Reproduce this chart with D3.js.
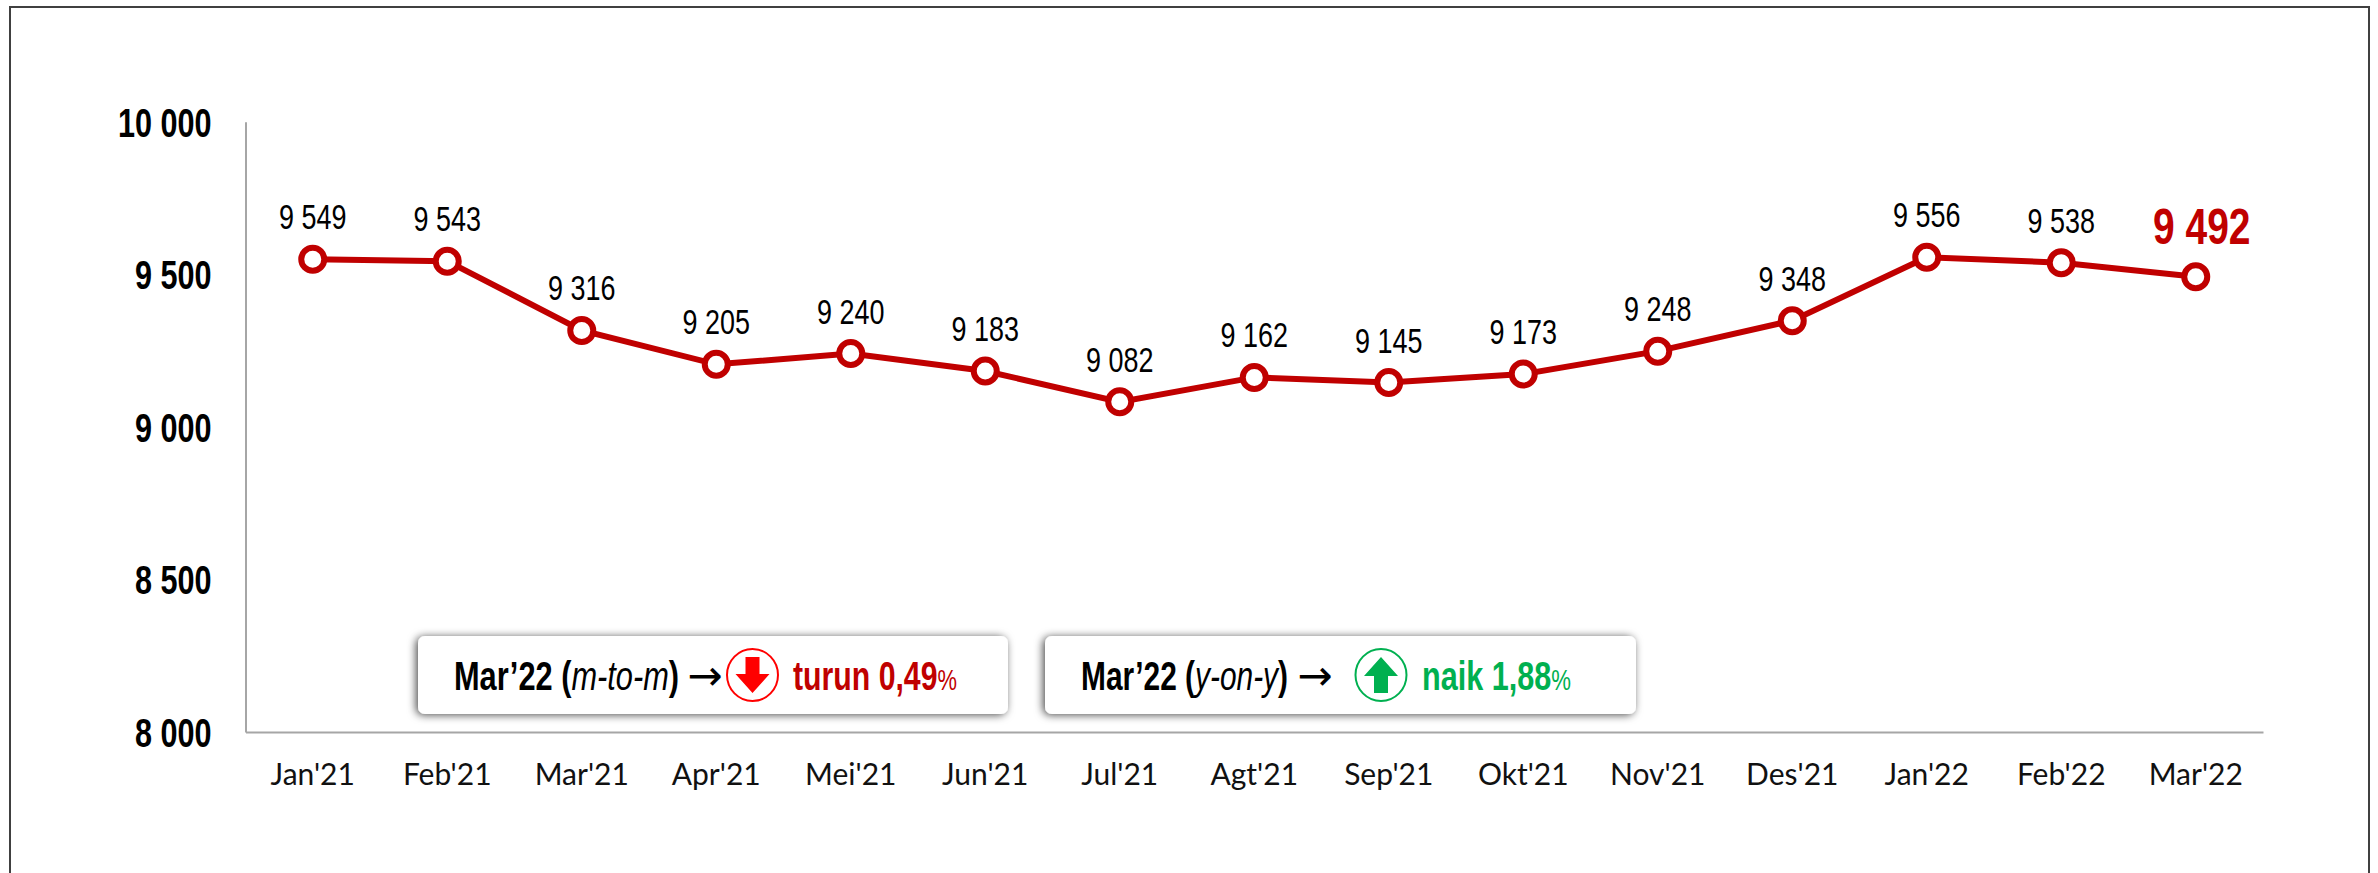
<!DOCTYPE html>
<html>
<head>
<meta charset="utf-8">
<script src="https://cdn.jsdelivr.net/npm/d3@7"></script>
<style>
html, body { margin: 0; padding: 0; background: #fff; }
svg { display: block; }
.narrow { font-family: "Liberation Sans", Arial, sans-serif; }
.xaxis text { font-family: Lato, "Open Sans", sans-serif; font-size: 30px; fill: #111; }
.yaxis text { font-family: "Liberation Sans", Arial, sans-serif; font-size: 40px; font-weight: bold; fill: #000; }
.domain { stroke: #a6a6a6; stroke-width: 2; }
</style>
</head>
<body>
<svg id="chart" width="2378" height="873"></svg>
<script>
const months = ["Jan'21","Feb'21","Mar'21","Apr'21","Mei'21","Jun'21","Jul'21","Agt'21","Sep'21","Okt'21","Nov'21","Des'21","Jan'22","Feb'22","Mar'22"];
const values = [9549,9543,9316,9205,9240,9183,9082,9162,9145,9173,9248,9348,9556,9538,9492];
const yTicks = [8000,8500,9000,9500,10000];
const width = 2378;
const height = 873;
const red = "#C00000";
const green = "#00B050";

const svg = d3.select("#chart");
const fmt = d3.formatLocale({thousands:" ", grouping:[3], decimal:",", currency:["",""]}).format(",d");

const defs = svg.append("defs");
defs.append("filter").attr("id","shadow")
    .attr("x","-5%").attr("y","-20%").attr("width","110%").attr("height","140%")
    .append("feDropShadow")
    .attr("dx",-2).attr("dy",1).attr("stdDeviation",4)
    .attr("flood-color","#000").attr("flood-opacity",0.7);

// outer frame, bottom edge runs off the picture
svg.append("rect").attr("x",10).attr("y",7).attr("width",2359).attr("height",height+20)
    .attr("fill","#fff").attr("stroke","#404040").attr("stroke-width",2);

const x = d3.scaleBand().domain(months).range([245.5,2263]);
const y = d3.scaleLinear().domain([8000,10000]).range([732,121.7]);

const xAxis = d3.axisBottom(x).tickSize(0).tickPadding(32);
const yAxis = d3.axisLeft(y).tickValues(yTicks).tickFormat(fmt).tickSize(0).tickPadding(34);

svg.append("g").attr("class","yaxis").attr("transform","translate(245.5,0)").call(yAxis);
svg.append("g").attr("class","xaxis").attr("transform","translate(0,732)").call(xAxis);
svg.selectAll(".domain").attr("fill","none");
// no narrow font installed, so squeeze the regular one
svg.selectAll(".yaxis text").attr("x",0).attr("transform","translate(-34,1.5) scale(0.765,1)");

const px = (d,i) => x(months[i]) + x.bandwidth()/2;

const line = d3.line().x(px).y(d => y(d));
svg.append("path").datum(values)
    .attr("d",line).attr("fill","none").attr("stroke",red).attr("stroke-width",6);

svg.selectAll("circle.pt").data(values).join("circle")
    .attr("class","pt")
    .attr("cx",px).attr("cy",d => y(d)).attr("r",11.5)
    .attr("fill","#fff").attr("stroke",red).attr("stroke-width",6);

const last = values.length - 1;
svg.selectAll("text.lbl").data(values).join("text")
    .attr("class","lbl narrow")
    .attr("transform",(d,i) => i == last
        ? `translate(${px(d,i)+6},${y(d)-33}) scale(0.78,1)`
        : `translate(${px(d,i)},${y(d)-30}) scale(0.77,1)`)
    .attr("text-anchor","middle")
    .attr("font-size",(d,i) => i == last ? 50 : 35)
    .attr("font-weight",(d,i) => i == last ? "bold" : "normal")
    .attr("fill",(d,i) => i == last ? red : "#000")
    .text(fmt);

function addBox(bx, bw, label, italic, color, word, pct, badgeX, arrowX, arrowUp, wordX, textW, wordW) {
    const g = svg.append("g");
    g.append("rect").attr("x",bx).attr("y",636).attr("width",bw).attr("height",78).attr("rx",7)
        .attr("fill","#fff").attr("filter","url(#shadow)");

    const t = g.append("text").attr("class","narrow")
        .attr("x",bx+36).attr("y",690).attr("font-size",41).attr("font-weight","bold").attr("fill","#000")
        .attr("textLength",textW).attr("lengthAdjust","spacingAndGlyphs");
    t.append("tspan").text(label + " (");
    t.append("tspan").attr("font-style","italic").attr("font-weight","normal").text(italic);
    t.append("tspan").text(")");

    g.append("text").attr("x",arrowX).attr("y",690)
        .attr("font-family","DejaVu Sans").attr("font-size",42).attr("text-anchor","middle").attr("fill","#000")
        .text("\u2192");

    g.append("ellipse").attr("cx",badgeX).attr("cy",675).attr("rx",25.5).attr("ry",26)
        .attr("fill","#fff").attr("stroke",arrowUp ? green : "#FF0000").attr("stroke-width",2);
    const s = arrowUp ? -1 : 1;
    g.append("path")
        .attr("transform",`translate(${badgeX},675)`)
        .attr("d",`M-7,${-18*s} L7,${-18*s} L7,${-1*s} L17,${-1*s} L0,${18*s} L-17,${-1*s} L-7,${-1*s} Z`)
        .attr("fill",arrowUp ? green : "#FF0000");

    const w = g.append("text").attr("class","narrow")
        .attr("x",wordX).attr("y",690).attr("font-size",40).attr("font-weight","bold").attr("fill",color)
        .attr("textLength",wordW).attr("lengthAdjust","spacingAndGlyphs");
    w.append("tspan").text(word + " " + pct);
    w.append("tspan").attr("font-size",29).attr("font-weight","normal").text("%");
}

addBox(418, 590, "Mar\u201922", "m-to-m", red, "turun", "0,49", 752.5, 705, false, 793, 225, 164);
addBox(1045, 591, "Mar\u201922", "y-on-y", green, "naik", "1,88", 1381, 1315, true, 1422, 207, 149);
</script>
</body>
</html>
